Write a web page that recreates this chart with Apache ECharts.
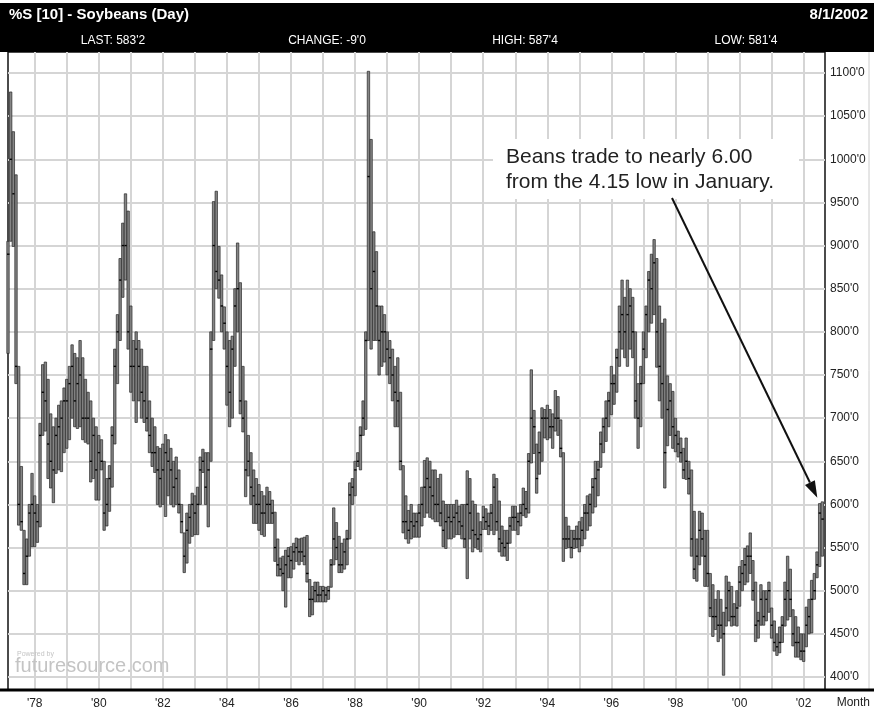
<!DOCTYPE html>
<html>
<head>
<meta charset="utf-8">
<script src="https://cdn.jsdelivr.net/npm/echarts@6/dist/echarts.min.js"></script>
<style>
  html, body { margin: 0; padding: 0; background: #fff; }
  #chart { width: 874px; height: 715px; }
</style>
</head>
<body>
<div id="chart"></div>
<script>
// monthly bars, first one is March 1977, last one August 2002 (cents/bu)
const firstYear = 1977
const firstMonth = 3

const highs = [
  905, 1078, 1032, 982, 760, 644, 570, 560, 600, 636,
  610, 600, 694, 762, 765, 745, 705, 690, 700, 715, 720, 735,
  745, 760, 785, 775, 770, 790, 770, 745, 730, 720, 700, 690,
  680, 675, 650, 630, 645, 690, 780, 820, 885, 926, 960, 940,
  830, 790, 800, 790, 780, 760, 760, 720, 700, 690, 667, 665,
  670, 681, 675, 665, 650, 655, 640, 600, 567, 590, 600, 613,
  610, 620, 655, 664, 660, 660, 800, 951, 963, 899, 866, 829,
  800, 790, 795, 850, 903, 857, 760, 720, 680, 660, 640, 630,
  623, 615, 610, 620, 615, 605, 591, 560, 538, 540, 547, 550,
  551, 555, 561, 560, 561, 562, 564, 513, 505, 510, 510, 505,
  505, 504, 505, 536, 596, 579, 563, 555, 560, 570, 625, 630,
  650, 660, 690, 720, 800, 1102, 1023, 916, 893, 830, 830, 820,
  800, 790, 780, 760, 770, 730, 645, 610, 593, 600, 590, 590,
  600, 620, 651, 654, 650, 640, 640, 630, 635, 604, 600, 600,
  600, 600, 605, 598, 600, 600, 639, 630, 604, 600, 590, 580,
  598, 595, 590, 600, 635, 630, 604, 575, 570, 570, 585, 598,
  598, 590, 600, 619, 615, 659, 756, 709, 670, 684, 712, 710,
  715, 710, 705, 732, 725, 698, 660, 585, 575, 570, 570, 575,
  580, 585, 600, 610, 612, 630, 650, 650, 684, 700, 720, 730,
  760, 750, 780, 830, 860, 840, 860, 850, 840, 800, 740, 760,
  800, 830, 870, 890, 907, 885, 830, 810, 815, 749, 740, 731,
  700, 685, 677, 665, 677, 650, 640, 592, 560, 592, 590, 570,
  570, 520, 507, 490, 500, 490, 475, 517, 510, 505, 485, 500,
  528, 535, 549, 552, 567, 535, 510, 475, 507, 500, 500, 510,
  480, 465, 450, 458, 470, 510, 540, 525, 478, 470, 458, 450,
  450, 481, 490, 512, 520, 545, 601, 603
]

const lows = [
  775, 905, 899, 740, 576, 570, 507, 507, 540, 551,
  551, 556, 574, 680, 685, 630, 619, 602, 636, 640, 638, 660,
  665, 675, 700, 690, 688, 690, 675, 672, 670, 626, 630, 605,
  605, 640, 570, 575, 592, 620, 670, 740, 790, 840, 860, 780,
  730, 720, 695, 720, 700, 695, 685, 660, 644, 637, 600, 597,
  600, 586, 610, 600, 597, 600, 590, 567, 521, 532, 555, 563,
  565, 565, 600, 637, 600, 574, 650, 790, 850, 839, 800, 780,
  715, 690, 700, 760, 800, 705, 684, 609, 633, 600, 578, 578,
  570, 565, 563, 578, 578, 578, 534, 517, 517, 500, 481, 515,
  515, 525, 534, 530, 534, 530, 510, 470, 472, 487, 487, 487,
  487, 487, 490, 504, 530, 536, 521, 521, 525, 530, 560, 600,
  610, 644, 640, 680, 687, 790, 780, 790, 790, 750, 760, 765,
  750, 740, 720, 690, 690, 640, 567, 560, 555, 560, 562, 562,
  562, 575, 585, 590, 585, 583, 580, 580, 575, 551, 549, 560,
  560, 562, 565, 565, 560, 550, 514, 560, 545, 550, 548, 545,
  571, 571, 565, 570, 565, 570, 545, 540, 540, 535, 555, 570,
  570, 565, 575, 587, 585, 590, 648, 659, 613, 635, 650, 677,
  675, 677, 665, 685, 680, 655, 534, 549, 550, 538, 549, 550,
  545, 552, 560, 570, 575, 590, 597, 610, 643, 660, 673, 690,
  704, 716, 730, 760, 780, 770, 760, 780, 770, 700, 665, 690,
  740, 770, 800, 810, 820, 759, 720, 700, 619, 668, 680, 665,
  661, 655, 649, 630, 629, 612, 540, 514, 511, 530, 540, 505,
  505, 470, 447, 455, 441, 445, 402, 459, 465, 459, 460, 459,
  482, 500, 507, 510, 520, 489, 441, 445, 460, 460, 465, 475,
  445, 430, 425, 428, 440, 459, 466, 470, 436, 423, 423, 420,
  418, 435, 450, 451, 490, 515, 528, 540
]

const closes = [
  890, 1000, 960, 760, 600, 580, 520, 540, 590, 600,
  590, 580, 680, 730, 720, 670, 650, 640, 680, 690, 700, 720,
  720, 740, 760, 720, 740, 750, 700, 700, 700, 650, 680, 640,
  660, 650, 590, 600, 630, 680, 760, 800, 860, 900, 900, 800,
  760, 760, 780, 760, 730, 720, 700, 680, 660, 660, 640, 630,
  640, 660, 650, 640, 620, 630, 600, 580, 540, 570, 585, 600,
  590, 600, 640, 650, 620, 640, 780, 900, 870, 860, 830, 810,
  760, 730, 780, 830, 850, 720, 700, 640, 650, 620, 610, 600,
  600, 590, 590, 600, 600, 590, 550, 530, 525, 520, 530, 540,
  535, 545, 550, 545, 545, 540, 520, 490, 490, 500, 495, 495,
  500, 495, 500, 530, 560, 550, 530, 530, 545, 560, 611, 620,
  640, 650, 680, 700, 790, 980, 850, 870, 830, 790, 800, 800,
  780, 770, 750, 730, 720, 650, 580, 580, 570, 580, 575, 580,
  590, 600, 620, 630, 620, 610, 600, 600, 590, 570, 580, 585,
  580, 585, 590, 580, 575, 560, 600, 590, 570, 565, 560, 565,
  585, 580, 575, 590, 620, 580, 560, 555, 550, 555, 575, 585,
  585, 580, 590, 600, 595, 650, 700, 690, 630, 660, 700, 700,
  700, 690, 690, 700, 700, 665, 560, 560, 560, 550, 560, 560,
  560, 570, 590, 590, 600, 620, 630, 640, 670, 690, 700, 720,
  740, 740, 770, 800, 820, 800, 820, 830, 800, 720, 700, 740,
  780, 820, 860, 850, 880, 800, 760, 740, 660, 710, 720, 690,
  680, 670, 660, 640, 650, 630, 560, 525, 540, 570, 560, 540,
  520, 480, 470, 470, 460, 460, 450, 480, 500, 470, 470, 480,
  510, 520, 530, 540, 540, 500, 460, 465, 490, 470, 490, 500,
  460, 440, 435, 440, 460, 490, 500, 490, 450, 440, 440, 430,
  430, 460, 470, 490, 500, 530, 590, 583
]

const priceMin = 400
const priceMax = 1100
const priceStep = 50

const titleText = '%S [10] - Soybeans (Day)'
const dateText = '8/1/2002'
const quoteTexts = ["LAST: 583'2", "CHANGE: -9'0", "HIGH: 587'4", "LOW: 581'4"]
const noteLines = ['Beans trade to nearly 6.00', 'from the 4.15 low in January.']

// one category per month, plus an empty September 2002 slot at the right edge
let months = []
for (let i = 0; i <= highs.length; i++) {
  let m = firstMonth - 1 + i
  months.push((firstYear + Math.floor(m / 12)) + '-' + (m % 12 + 1))
}

let bars = highs.map((h, i) => [i, h, lows[i], closes[i]])

const font = "'Liberation Sans', Arial, sans-serif"
const narrow = "'Liberation Sans Narrow', 'Liberation Sans', Arial, sans-serif"

let isJan = (idx, value) => value.split('-')[1] === '1'

let chart = echarts.init(document.getElementById('chart'))

let option = {
  animation: false,
  backgroundColor: '#fff',
  grid: [
    // frame with the yearly grid lines
    { left: 8, right: 49, top: 52, bottom: 25, show: true, borderColor: '#111', borderWidth: 1.5 },
    // price area
    { left: 8, right: 49, top: 73, bottom: 38 }
  ],
  xAxis: [
    {
      gridIndex: 0,
      type: 'category',
      data: months,
      boundaryGap: false,
      axisLine: { show: false },
      axisTick: { show: false },
      splitLine: { show: true, interval: isJan, lineStyle: { color: '#d5d5d5', width: 2 } },
      axisLabel: {
        interval: (idx, value) => isJan(idx, value) && +value.split('-')[0] % 2 === 0,
        formatter: value => "'" + value.split('-')[0].slice(2),
        color: '#222',
        fontSize: 12,
        fontFamily: font,
        margin: 8
      }
    },
    {
      gridIndex: 1,
      type: 'category',
      data: months,
      boundaryGap: false,
      show: false
    }
  ],
  yAxis: [
    { gridIndex: 0, type: 'value', min: 0, max: 1, show: false },
    {
      gridIndex: 1,
      type: 'value',
      position: 'right',
      min: priceMin,
      max: priceMax,
      interval: priceStep,
      axisLine: { show: false },
      axisTick: { show: false },
      splitLine: { show: true, lineStyle: { color: '#d5d5d5', width: 2 } },
      axisLabel: {
        formatter: v => v + "'0",
        color: '#222',
        fontSize: 12,
        fontFamily: font,
        margin: 5
      }
    }
  ],
  series: [
    {
      type: 'custom',
      xAxisIndex: 1,
      yAxisIndex: 1,
      clip: false,
      encode: { x: 0, y: [1, 2, 3] },
      data: bars,
      renderItem: function (params, api) {
        let x = api.coord([api.value(0), api.value(1)])[0]
        let top = api.coord([api.value(0), api.value(1)])[1]
        let bottom = api.coord([api.value(0), api.value(2)])[1]
        let close = api.coord([api.value(0), api.value(3)])[1]
        return {
          type: 'group',
          children: [
            {
              type: 'rect',
              shape: { x: x - 1.2, y: top, width: 2.4, height: bottom - top },
              style: { fill: '#858585', stroke: '#262626', lineWidth: 0.7 }
            },
            {
              type: 'line',
              shape: { x1: x - 1, y1: close, x2: x + 1.5, y2: close },
              style: { stroke: '#000', lineWidth: 1.4 }
            }
          ]
        }
      }
    }
  ],
  graphic: [
    { type: 'rect', shape: { x: 0, y: 3, width: 874, height: 49 }, style: { fill: '#000' }, z: 10 },
    {
      type: 'text', x: 9, y: 15, z: 11,
      style: { text: titleText, fill: '#fff', font: 'bold 15px ' + narrow, verticalAlign: 'middle' }
    },
    {
      type: 'text', x: 868, y: 15, z: 11,
      style: { text: dateText, fill: '#fff', font: 'bold 15px ' + narrow, align: 'right', verticalAlign: 'middle' }
    },
    ...quoteTexts.map((t, i) => ({
      type: 'text', x: [113, 327, 525, 746][i], y: 41, z: 11,
      style: { text: t, fill: '#fff', font: '12px ' + font, align: 'center', verticalAlign: 'middle' }
    })),
    { type: 'line', shape: { x1: 0, y1: 690, x2: 874, y2: 690 }, style: { stroke: '#000', lineWidth: 3 }, z: 10 },
    { type: 'line', shape: { x1: 869, y1: 52, x2: 869, y2: 689 }, style: { stroke: '#ccc', lineWidth: 1 }, z: 5 },
    {
      type: 'text', x: 870, y: 703, z: 11,
      style: { text: 'Month', fill: '#222', font: '12px ' + font, align: 'right', verticalAlign: 'middle' }
    },
    {
      type: 'text', x: 17, y: 651, z: 6,
      style: { text: 'Powered by', fill: '#c4c4c4', font: '7px ' + font }
    },
    {
      type: 'text', x: 15, y: 656, z: 6,
      style: { text: 'futuresource.com', fill: '#c4c4c4', font: '20px ' + font }
    },
    { type: 'rect', shape: { x: 493, y: 139, width: 306, height: 60 }, style: { fill: '#fff' }, z: 20 },
    {
      type: 'text', x: 506, y: 145, z: 21,
      style: { text: noteLines.join('\n'), fill: '#222', font: '21px ' + font, lineHeight: 25 }
    }
  ]
}

chart.setOption(option)

// arrow from the note down to the last bar
let last = bars.length - 1
let tip = chart.convertToPixel({ xAxisIndex: 1, yAxisIndex: 1 }, [last, highs[last]])
tip = [tip[0] - 5, tip[1] - 4]
let start = [672, 198]
let ang = Math.atan2(tip[1] - start[1], tip[0] - start[0])
let headLen = 17, headHalf = 5.5
let base = [tip[0] - headLen * Math.cos(ang), tip[1] - headLen * Math.sin(ang)]
let nx = -Math.sin(ang), ny = Math.cos(ang)

chart.setOption({
  graphic: option.graphic.concat([
    {
      type: 'line', z: 22,
      shape: { x1: start[0], y1: start[1], x2: base[0], y2: base[1] },
      style: { stroke: '#111', lineWidth: 2 }
    },
    {
      type: 'polygon', z: 22,
      shape: { points: [tip, [base[0] + nx * headHalf, base[1] + ny * headHalf], [base[0] - nx * headHalf, base[1] - ny * headHalf]] },
      style: { fill: '#111' }
    }
  ])
})
</script>
</body>
</html>
